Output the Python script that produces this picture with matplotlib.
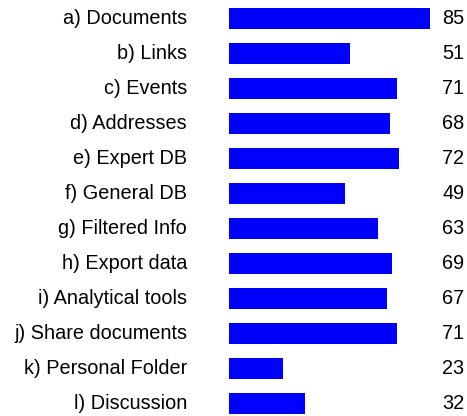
import matplotlib
matplotlib.use('Agg')
import matplotlib.pyplot as plt

labels = ['a) Documents', 'b) Links', 'c) Events', 'd) Addresses', 'e) Expert DB',
          'f) General DB', 'g) Filtered Info', 'h) Export data', 'i) Analytical tools',
          'j) Share documents', 'k) Personal Folder', 'l) Discussion']
values = [85, 51, 71, 68, 72, 49, 63, 69, 67, 71, 23, 32]

plt.rcParams['font.family'] = ['Liberation Sans', 'DejaVu Sans']

fig = plt.figure(figsize=(4.67, 4.16), dpi=100, facecolor='w')
ax = fig.add_axes([229 / 467, 0, 201 / 467, 1])

pos = list(range(len(values)))
ax.barh(pos, values, height=0.6, color='#0000ff')
ax.set_xlim(0, 85)
ax.set_ylim((416 - 18.5) / 35, -18.5 / 35)

for p, lab, v in zip(pos, labels, values):
    ax.text(-0.209, p, lab, transform=ax.get_yaxis_transform(), ha='right', va='center', fontsize=14.3)
    ax.text(1.06, p, str(v), transform=ax.get_yaxis_transform(), ha='left', va='center', fontsize=14.3)

ax.axis('off')
plt.savefig('out.png', dpi=100)
plt.close()
